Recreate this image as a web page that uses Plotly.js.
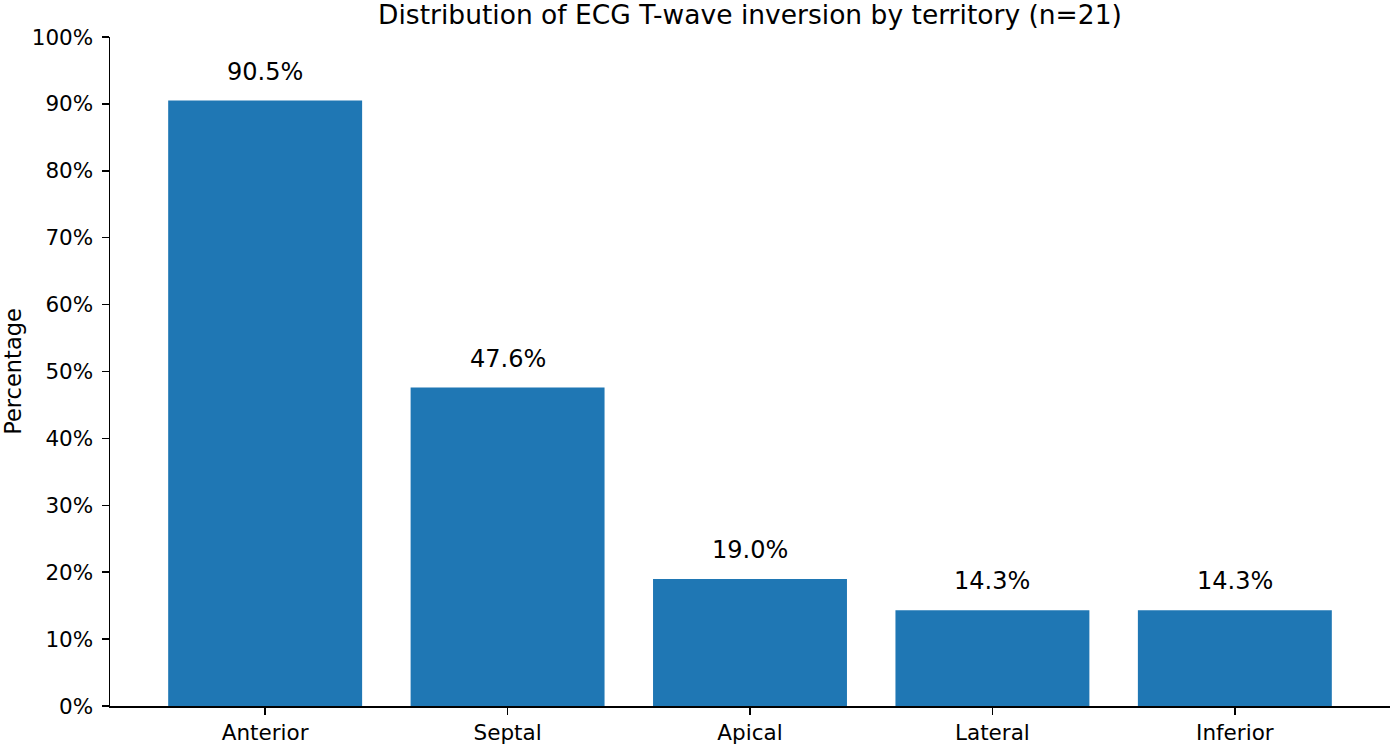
<!DOCTYPE html>
<html>
<head>
<meta charset="utf-8">
<script src="https://cdn.plot.ly/plotly-3.0.1.min.js"></script>
<style>html,body{margin:0;padding:0;background:#fff;}#chart{width:1391px;height:750px;}</style>
</head>
<body>
<div id="chart"></div>
<script>
const categories = ["Anterior", "Septal", "Apical", "Lateral", "Inferior"];
const percentages = [90.5, 47.6, 19.0, 14.3, 14.3];
const yTickValues = [0, 10, 20, 30, 40, 50, 60, 70, 80, 90, 100];
const yTickLabels = ["0%", "10%", "20%", "30%", "40%", "50%", "60%", "70%", "80%", "90%", "100%"];
const titleText = "Distribution of ECG T-wave inversion by territory (n=21)";
const yLabel = "Percentage";

const FONT = "DejaVu Sans, sans-serif";
const xIdx = categories.map((c, i) => i);

const trace = {
  type: "bar",
  x: xIdx,
  y: percentages,
  width: 0.8,
  marker: {color: "#1f77b4", line: {width: 0}},
  hoverinfo: "skip"
};

const annotations = xIdx.map((i) => ({
  x: i, y: percentages[i], xref: "x", yref: "y",
  text: percentages[i].toFixed(1) + "%",
  showarrow: false, yanchor: "bottom", yshift: 13,
  font: {family: FONT, size: 24, color: "#000"}
}));

const layout = {
  width: 1391, height: 750,
  margin: {l: 110, r: 1, t: 37, b: 44, pad: 0},
  paper_bgcolor: "#fff", plot_bgcolor: "#fff",
  font: {family: FONT, size: 21.5, color: "#000"},
  showlegend: false,
  title: {
    text: titleText, font: {family: FONT, size: 26.5, color: "#000"},
    xref: "paper", x: 0.5, xanchor: "center",
    yref: "container", y: 1 - 14.5 / 750, yanchor: "middle"
  },
  xaxis: {
    range: [-0.64, 4.64], tickmode: "array", tickvals: xIdx, ticktext: categories,
    showgrid: false, zeroline: false, showline: true, linecolor: "#000", linewidth: 1.5,
    ticks: "outside", ticklen: 7, tickwidth: 1.5, tickcolor: "#000",
    tickfont: {family: FONT, size: 21.5, color: "#000"}, fixedrange: true
  },
  yaxis: {
    range: [0, 100], tickmode: "array", tickvals: yTickValues, ticktext: yTickLabels,
    showgrid: false, zeroline: false, showline: true, linecolor: "#000", linewidth: 1.5,
    ticks: "outside", ticklen: 7, tickwidth: 1.5, tickcolor: "#000",
    ticklabelstandoff: 4,
    tickfont: {family: FONT, size: 21.5, color: "#000"},
    title: {text: yLabel, font: {family: FONT, size: 22.5, color: "#000"}, standoff: 8},
    automargin: false, fixedrange: true
  },
  annotations: annotations
};

Plotly.newPlot("chart", [trace], layout, {displayModeBar: false, staticPlot: true});
</script>
</body>
</html>
